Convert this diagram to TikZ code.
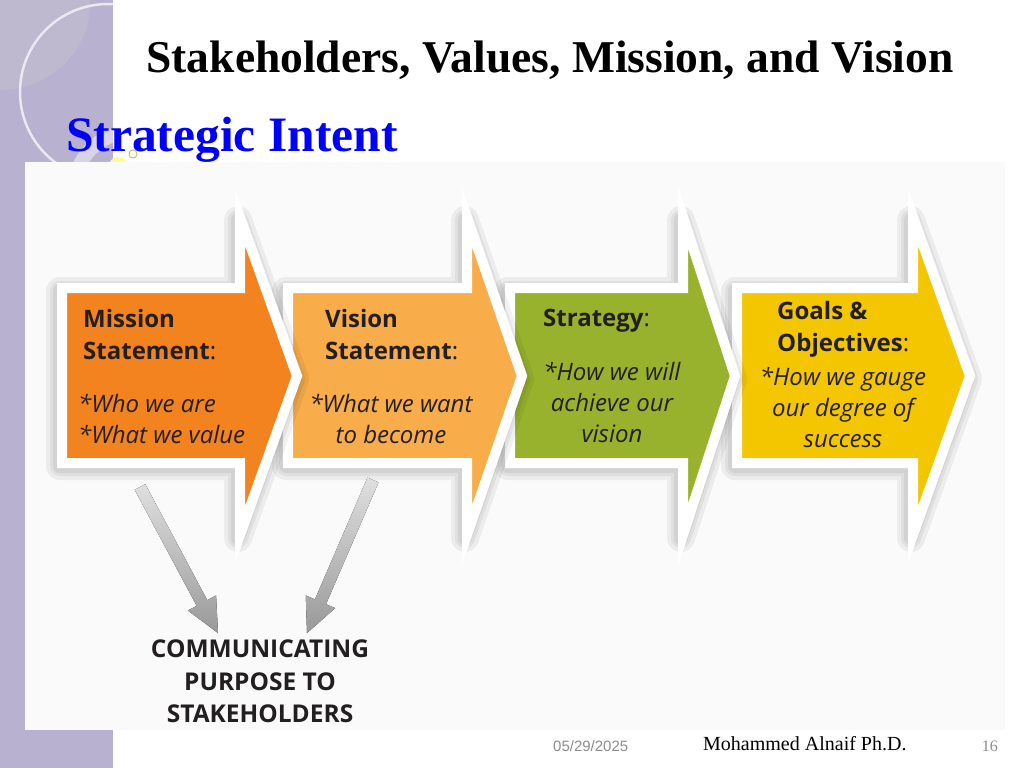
\documentclass[tikz,border=0pt]{standalone}
\usepackage{fontspec}
\setmainfont{Liberation Serif}
\newfontfamily\boxfont{Open Sans}
\newfontfamily\datefont{Liberation Sans}
\usetikzlibrary{calc}
\definecolor{strip}{HTML}{B9B1D0}
\definecolor{lens}{HTML}{BEB9CF}
\definecolor{ink}{HTML}{231F20}
\definecolor{mission}{HTML}{F3831F}
\definecolor{vision}{HTML}{F8AC4A}
\definecolor{strategy}{HTML}{98B22D}
\definecolor{goals}{HTML}{F3C600}
\definecolor{datecol}{HTML}{8C8C8C}
\newcommand\stagearrow[4]{% colour, left x, head x, tip x
  \draw[halo, line width=28pt] (#2,288) -- (#3,288) -- (#3,217) -- (#4,376)
    -- (#3,535) -- (#3,463) -- (#2,463) -- cycle;
  \draw[halo, line width=20pt] (#2,288) -- (#3,288) -- (#3,217) -- (#4,376)
    -- (#3,535) -- (#3,463) -- (#2,463) -- cycle;
  \draw[halo, line width=14pt] (#2,288) -- (#3,288) -- (#3,217) -- (#4,376)
    -- (#3,535) -- (#3,463) -- (#2,463) -- cycle;
  \draw[stage, fill=#1] (#2,288) -- (#3,288) -- (#3,217) -- (#4,376)
    -- (#3,535) -- (#3,463) -- (#2,463) -- cycle;}
\newcommand\grayarrow[2]{% from, to
  \coordinate (#1h) at ($(#2)!34pt!(#1)$);
  \fill[top color=gray!25, bottom color=gray!80]
    ($(#1)!6pt!-90:(#2)$) -- ($(#1h)!6pt!-90:(#2)$) -- ($(#1h)!16pt!-90:(#2)$)
    -- (#2) -- ($(#1h)!16pt!90:(#2)$) -- ($(#1h)!6pt!90:(#2)$) -- ($(#1)!6pt!90:(#2)$) -- cycle;}

\begin{document}
\begin{tikzpicture}[x=1pt, y=-1pt,
  stage/.style={draw=white, line width=10pt, line join=miter},
  halo/.style={draw=black, draw opacity=0.055, line join=round, xshift=-2pt, yshift=-3pt},
  head/.style={inner sep=0pt, align=left, text=ink, font=\boxfont\fontsize{24}{32}\selectfont\bfseries},
  body/.style={inner sep=0pt, align=center, text=ink, font=\boxfont\fontsize{24}{31}\selectfont\itshape}]
\useasboundingbox (0,0) rectangle (1024,768);
\fill[white] (0,0) rectangle (1024,768);

% side strip
\fill[strip] (0,0) rectangle (113,768);
\begin{scope}
  \clip (0,0) rectangle (113,768);
  \fill[lens] (0,0) -- (90,0) .. controls (92,50) and (50,90) .. (0,90) -- cycle;
  \draw[white!70!strip, line width=2.5pt] (108,92) circle[radius=88];
  \draw[white, opacity=0.45, line width=14pt] (132,190) circle[radius=58];
\end{scope}
\fill[yellow!40!white] (118,166) circle[radius=9];
\draw[olive!50, line width=1pt] (133,154) circle[radius=4];

% titles
\node[inner sep=0pt, anchor=base, font=\bfseries\fontsize{45.5}{54}\selectfont] (title) at (550,72)
  {Stakeholders, Values, Mission, and Vision};
\fill[white!98!black] (25,162) rectangle (1005,730);
\node[inner sep=0pt, anchor=base west, text=blue, font=\bfseries\fontsize{49.5}{56}\selectfont] (intent) at (66,151)
  {Strategic Intent};

% stage arrows, right to left so each tip lies on top
\stagearrow{goals}{737}{913}{970}
\stagearrow{strategy}{510}{683}{735}
\stagearrow{vision}{288}{467}{522}
\stagearrow{mission}{62}{240}{297}

\node[head, anchor=north west] (missionh) at (83,309) {Mission\\Statement{\mdseries :}};
\node[body, align=left, anchor=north west] (missionb) at (78,394) {*Who we are\\*What we value};
\node[head, anchor=north west] (visionh) at (325,309) {Vision\\Statement{\mdseries :}};
\node[body, anchor=north] (visionb) at (391,394) {*What we want\\to become};
\node[head, anchor=north west] (strategyh) at (543,309) {Strategy{\mdseries :}};
\node[body, anchor=north] (strategyb) at (612,362) {*How we will\\achieve our\\vision};
\node[head, anchor=north west] (goalsh) at (777,301) {Goals \&\\Objectives{\mdseries :}};
\node[body, anchor=north] (goalsb) at (843,367) {*How we gauge\\our degree of\\success};

% communicating purpose
\node[head, align=center, anchor=north, font=\boxfont\fontsize{24.5}{32.5}\selectfont\bfseries] (comm) at (260,640)
  {COMMUNICATING\\PURPOSE TO\\STAKEHOLDERS};
\coordinate (msrc) at (140,487);
\coordinate (mtip) at (218,633);
\coordinate (vsrc) at (373,480);
\coordinate (vtip) at (307,633);
\grayarrow{msrc}{mtip}
\grayarrow{vsrc}{vtip}

% footer
\node[inner sep=0pt, anchor=base west, text=datecol, font=\datefont\fontsize{15}{18}\selectfont] (date) at (553,751) {05/29/2025};
\node[inner sep=0pt, anchor=base west, font=\fontsize{20}{24}\selectfont] (author) at (703,750) {Mohammed Alnaif Ph.D.};
\node[inner sep=0pt, anchor=base east, text=datecol, font=\fontsize{16}{18}\selectfont] (page) at (998,751) {16};
\end{tikzpicture}
\end{document}
